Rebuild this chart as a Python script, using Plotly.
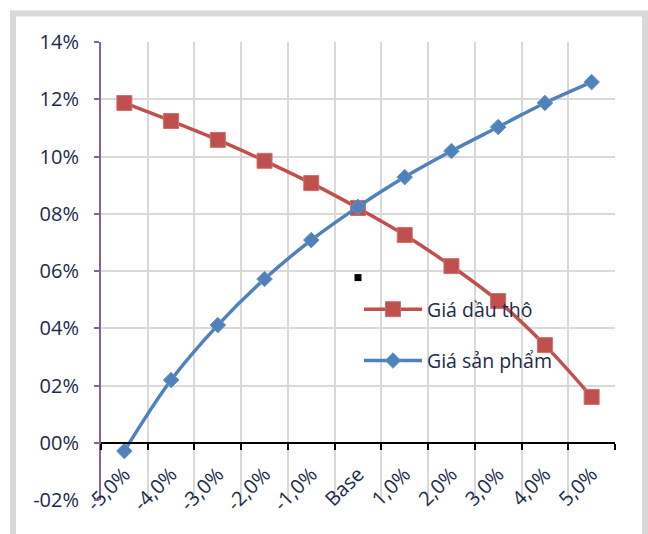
import plotly.graph_objects as go

# Scenario axis (change in price) and the two sensitivity series
categories = ["-5,0%", "-4,0%", "-3,0%", "-2,0%", "-1,0%", "Base",
              "1,0%", "2,0%", "3,0%", "4,0%", "5,0%"]
crude_oil = [0.1187, 0.1124, 0.1058, 0.0985, 0.0907, 0.0820,
             0.0726, 0.0617, 0.0495, 0.0341, 0.0160]
product_price = [-0.0029, 0.0219, 0.0411, 0.0572, 0.0708, 0.0824,
                 0.0928, 0.1019, 0.1103, 0.1187, 0.1260]
stray_point_x = ["Base"]
stray_point_y = [0.0577]

y_tickvals = [-0.02, 0.0, 0.02, 0.04, 0.06, 0.08, 0.10, 0.12, 0.14]
y_ticktext = ["-02%", "00%", "02%", "04%", "06%", "08%", "10%", "12%", "14%"]

W, H = 648, 534
ML, MR, MT, MB = 101, 33, 42, 34
PW, PH = W - ML - MR, H - MT - MB
Y_MIN, Y_MAX = -0.02, 0.14

TEXT = "#1c2b49"
FONT = "Open Sans"
RED = "#c0504d"
BLUE = "#4f81bd"


def px_to_paper_x(px):
    return (px - ML) / PW


def px_to_paper_y(py):
    return (H - MB - py) / PH


fig = go.Figure()

fig.add_trace(go.Scatter(
    x=categories, y=crude_oil, name="Giá dầu thô",
    mode="lines+markers", legendgroup="a",
    line=dict(color=RED, width=3.5, shape="spline"),
    marker=dict(symbol="square", size=15, color=RED,
                line=dict(color="#cf6f6c", width=1)),
))
fig.add_trace(go.Scatter(
    x=categories, y=product_price, name="Giá sản phẩm",
    mode="lines+markers", legendgroup="b",
    line=dict(color=BLUE, width=3.5, shape="spline"),
    marker=dict(symbol="diamond", size=12, color=BLUE,
                line=dict(color="#6a95c9", width=1)),
))
fig.add_trace(go.Scatter(
    x=stray_point_x, y=stray_point_y, mode="markers", showlegend=False,
    marker=dict(symbol="square", size=7, color="black"),
))

# blank out the grid below the zero line
fig.add_shape(type="rect", xref="paper", yref="y",
              x0=0, x1=1, y0=Y_MIN - 0.002, y1=0,
              fillcolor="white", line=dict(width=0), layer="between")

# outer frame of the chart
fig.add_shape(type="rect", xref="paper", yref="paper",
              x0=px_to_paper_x(13), x1=px_to_paper_x(645),
              y0=px_to_paper_y(H + 30), y1=px_to_paper_y(13.5),
              line=dict(color="#d9d9d9", width=6), fillcolor="rgba(0,0,0,0)",
              layer="below")

fig.update_layout(
    width=W, height=H,
    margin=dict(l=ML, r=MR, t=MT, b=MB),
    paper_bgcolor="white", plot_bgcolor="white",
    font=dict(family=FONT, size=20, color=TEXT),
    hovermode=False,
    showlegend=True,
    legend=dict(
        x=px_to_paper_x(359), y=px_to_paper_y(290),
        xanchor="left", yanchor="top",
        bgcolor="rgba(0,0,0,0)", tracegroupgap=23,
        itemwidth=58,
        font=dict(family=FONT, size=19.5, color=TEXT),
    ),
    xaxis=dict(
        type="category", tickson="boundaries",
        range=[-0.5, len(categories) - 0.5],
        anchor="free", position=(0 - Y_MIN) / (Y_MAX - Y_MIN),
        showline=True, linecolor="black", linewidth=2,
        ticks="outside", ticklen=6, tickcolor="black", tickwidth=1.5,
        showgrid=True, gridcolor="#d9d9d9", gridwidth=1.5,
        tickangle=-45, ticklabelstandoff=11,
        tickfont=dict(family=FONT, size=20, color=TEXT),
        zeroline=False,
    ),
    yaxis=dict(
        range=[Y_MIN, Y_MAX],
        tickvals=y_tickvals, ticktext=y_ticktext,
        showline=True, linecolor="#8064a2", linewidth=2,
        ticks="outside", ticklen=5, tickcolor="#8064a2", tickwidth=1.5,
        showgrid=True, gridcolor="#d9d9d9", gridwidth=1.5,
        zeroline=False, ticklabelstandoff=11,
        tickfont=dict(family=FONT, size=20, color=TEXT),
    ),
)

fig.write_html("out.html")
